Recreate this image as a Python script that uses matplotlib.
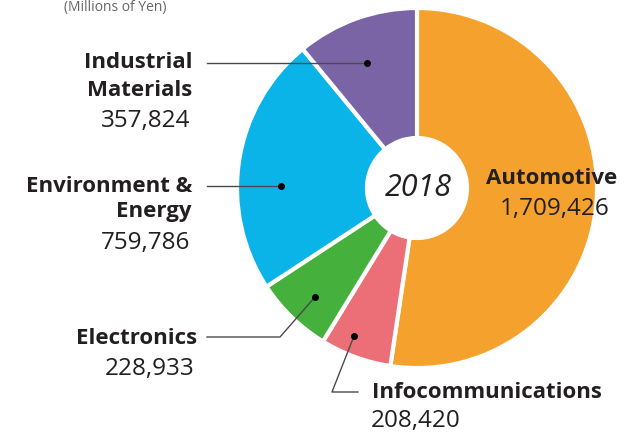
import matplotlib
matplotlib.use("Agg")
import matplotlib.pyplot as plt

categories = ["Automotive", "Infocommunications", "Electronics", "Environment & Energy", "Industrial Materials"]
values = [1709426, 208420, 228933, 759786, 357824]
colors = ["#F4A22D", "#EC6F77", "#45B03B", "#0BB4E8", "#7B64A6"]
year = "2018"
unit = "(Millions of Yen)"

W, H = 626, 433
fig = plt.figure(figsize=(W / 100, H / 100), dpi=100)
ax = fig.add_axes([0, 0, 1, 1])

def Y(py):
    return H - py

cx, cy, R = 417, Y(188), 180
ax.pie(values, colors=colors, startangle=90, counterclock=False, radius=R,
       center=(cx, cy), frame=True,
       wedgeprops=dict(edgecolor="white", linewidth=3, width=R - 50))
ax.set_xlim(0, W)
ax.set_ylim(0, H)
ax.set_aspect("equal")
ax.axis("off")

FONT = "Open Sans"
dark = "#231F20"
line = "#4a4a4a"
bold = dict(family=FONT, fontweight="bold", fontsize=16, color=dark)
reg = dict(family=FONT, fontsize=17.5, color=dark)

ax.text(cx + 1, cy, year, ha="center", va="center", fontsize=22, style="italic",
        family=FONT, color=dark)

ax.text(115, Y(0), unit, ha="center", va="top", family=FONT, fontsize=10, color="#666666")

# Industrial Materials
ax.text(192, Y(63), "Industrial", ha="right", va="center", **bold)
ax.text(192, Y(90), "Materials", ha="right", va="center", **bold)
ax.text(190, Y(121), f"{values[4]:,}", ha="right", va="center", **reg)
ax.plot([207, 367], [Y(63), Y(63)], color=line, lw=1)
ax.plot([367], [Y(63)], "o", color="black", ms=4)

# Environment & Energy
ax.text(192, Y(186), "Environment &", ha="right", va="center", **bold)
ax.text(192, Y(212), "Energy", ha="right", va="center", **bold)
ax.text(190, Y(243), f"{values[3]:,}", ha="right", va="center", **reg)
ax.plot([207, 281], [Y(186), Y(186)], color=line, lw=1)
ax.plot([281], [Y(186)], "o", color="black", ms=4)

# Electronics
ax.text(197, Y(338), "Electronics", ha="right", va="center", **bold)
ax.text(195, Y(369), f"{values[2]:,}", ha="right", va="center", **reg)
ax.plot([207, 280, 315], [Y(337), Y(337), Y(297)], color=line, lw=1)
ax.plot([315], [Y(297)], "o", color="black", ms=4)

# Infocommunications
ax.text(372, Y(392), "Infocommunications", ha="left", va="center", **bold)
ax.text(371, Y(421), f"{values[1]:,}", ha="left", va="center", **reg)
ax.plot([358, 332, 354], [Y(392), Y(392), Y(336)], color=line, lw=1)
ax.plot([354], [Y(336)], "o", color="black", ms=4)

# Automotive
ax.text(552, Y(179), "Automotive", ha="center", va="center", **bold)
ax.text(555, Y(209), f"{values[0]:,}", ha="center", va="center", **reg)

fig.savefig("out.png", dpi=100)
